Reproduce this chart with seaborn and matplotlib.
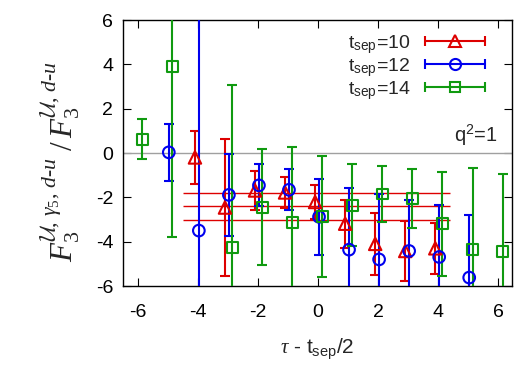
import numpy as np
import pandas as pd
import matplotlib
matplotlib.use("Agg")
import matplotlib.pyplot as plt
import seaborn as sns
from matplotlib.legend_handler import HandlerBase
from matplotlib.lines import Line2D

# ---- data ----
x_10 = [-4, -3, -2, -1, 0, 1, 2, 3, 4]
y_10 = [-0.20, -2.46, -1.69, -1.78, -2.21, -3.19, -4.10, -4.42, -4.30]
e_10 = [1.18, 3.10, 0.90, 0.69, 0.75, 1.09, 1.40, 1.35, 1.14]

x_12 = [-5, -4, -3, -2, -1, 0, 1, 2, 3, 4, 5]
y_12 = [0.03, -3.50, -1.89, -1.46, -1.66, -2.88, -4.36, -4.80, -4.42, -4.69, -5.62]
e_12 = [1.29, 10.0, 1.84, 0.95, 0.92, 1.70, 2.78, 2.97, 2.32, 2.33, 2.81]

x_14 = [-6, -5, -3, -2, -1, 0, 1, 2, 3, 4, 5, 6]
y_14 = [0.63, 3.90, -4.25, -2.44, -3.12, -2.86, -2.36, -1.85, -2.06, -3.19, -4.36, -4.46]
e_14 = [0.91, 7.67, 7.30, 2.60, 3.40, 2.72, 1.85, 1.27, 1.33, 2.35, 3.70, 3.53]

labels = ["t$_{\\mathsf{sep}}$=10", "t$_{\\mathsf{sep}}$=12", "t$_{\\mathsf{sep}}$=14"]
fit_center = -2.41
fit_err = 0.60
fit_range = [-4.5, 4.4]

# ---- style ----
sns.set_theme(style="ticks")
plt.rcParams["font.family"] = ["Liberation Sans", "DejaVu Sans"]
plt.rcParams["mathtext.fontset"] = "custom"
plt.rcParams["mathtext.rm"] = "Liberation Serif"
plt.rcParams["mathtext.it"] = "Liberation Serif:italic"
plt.rcParams["mathtext.sf"] = "Liberation Sans"
plt.rcParams["mathtext.cal"] = "cmsy10"
plt.rcParams["mathtext.default"] = "it"

colors = ["#dd0000", "#0000ee", "#109a10"]
markers = ["^", "o", "s"]
sizes = [80, 70, 62]
offsets = [-0.1, 0.03, 0.14]

fig = plt.figure(figsize=(5.25, 3.67), dpi=100)
ax = fig.add_axes([0.234, 0.2207, 0.741, 0.7248])

ax.axhline(0, color="#a0a0a0", lw=1.0, zorder=1)
for yv in [fit_center + fit_err, fit_center, fit_center - fit_err]:
    ax.hlines(yv, fit_range[0], fit_range[1], color="#dd0000", lw=1.0, zorder=2)

series = [(x_10, y_10, e_10), (x_12, y_12, e_12), (x_14, y_14, e_14)]
for (xs, ys, es), c, m, s, off, lab in zip(series, colors, markers, sizes, offsets, labels):
    xx = np.array(xs, dtype=float) + off
    ax.errorbar(xx, ys, yerr=es, fmt="none", ecolor=c, elinewidth=1.5,
                capsize=3.5, capthick=1.5, zorder=3)
    df = pd.DataFrame({"x": xx, "y": ys})
    sns.scatterplot(data=df, x="x", y="y", ax=ax, marker=m, s=s,
                    facecolors="none", edgecolor=c, linewidth=1.5, zorder=4,
                    legend=False)


class ErrHandler(HandlerBase):
    def __init__(self, color, marker, ms):
        super().__init__()
        self.c, self.m, self.ms = color, marker, ms

    def create_artists(self, legend, orig_handle, xdescent, ydescent,
                       width, height, fontsize, trans):
        y = height / 2 - ydescent
        x0, x1 = -xdescent, -xdescent + width
        ln = Line2D([x0, x1], [y, y], color=self.c, lw=1.5, transform=trans)
        caps = Line2D([x0, x1], [y, y], ls="none", marker="|", ms=7,
                      mew=1.5, color=self.c, transform=trans)
        mk = Line2D([(x0 + x1) / 2], [y], ls="none", marker=self.m, ms=self.ms,
                    mfc="none", mec=self.c, mew=1.5, transform=trans)
        return [ln, caps, mk]


handles = [Line2D([], [], label=l) for l in labels]
hmap = {h: ErrHandler(c, m, ms) for h, c, m, ms in
        zip(handles, colors, markers, [9, 8, 7.5])}
leg = ax.legend(handles=handles, labels=labels, handler_map=hmap,
                loc="upper right", bbox_to_anchor=(0.962, 0.995),
                frameon=False, fontsize=14, markerfirst=False,
                handlelength=3.1, handletextpad=0.75, labelspacing=0.0,
                borderaxespad=0.2)

ax.text(0.964, 0.542, "q$^{\\mathsf{2}}$=1", transform=ax.transAxes, ha="right",
        va="baseline", fontsize=14.5)

ax.set_xlim(-6.5, 6.45)
ax.set_ylim(-6, 6)
ax.set_xticks([-6, -4, -2, 0, 2, 4, 6])
ax.set_yticks([-6, -4, -2, 0, 2, 4, 6])
ax.set_xticklabels(["-6", "-4", "-2", "0", "2", "4", "6"])
ax.set_yticklabels(["-6", "-4", "-2", "0", "2", "4", "6"])
ax.tick_params(direction="in", length=6, width=0.8, top=True, right=True,
               labelsize=14, colors="black", pad=7)
ax.tick_params(axis="x", pad=13)
for sp in ax.spines.values():
    sp.set_color("black")
    sp.set_linewidth(1.0)

ax.set_xlabel("$\\tau$ - t$_{\\mathsf{sep}}$/2", fontsize=15, labelpad=11)
ax.set_ylabel(r"$F_3^{\mathcal{U},\,\gamma_5,\,d\text{-}u}\ /\,F_3^{\mathcal{U},\,d\text{-}u}$",
              fontsize=22.5)
ax.yaxis.set_label_coords(-0.105, 0.468)

fig.savefig("out.png", dpi=100)
